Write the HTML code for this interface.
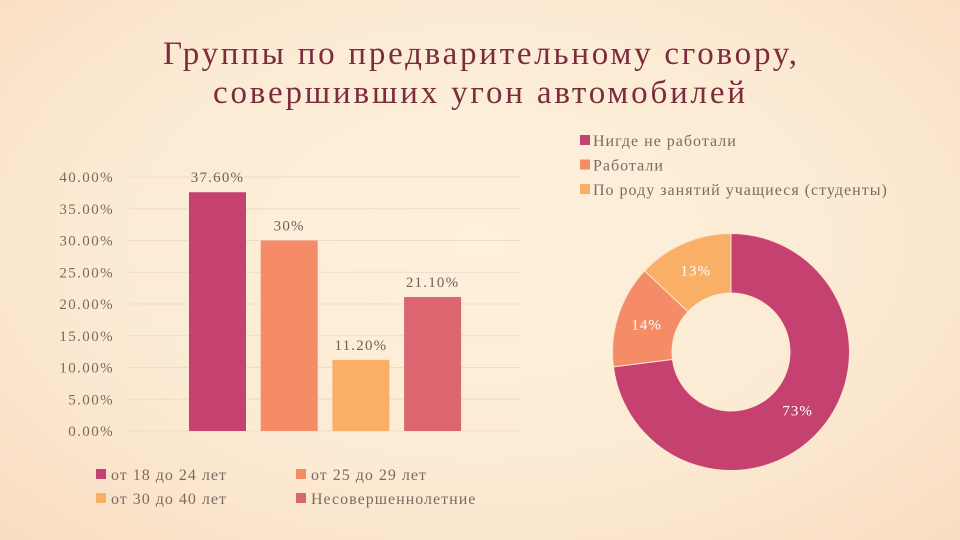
<!DOCTYPE html>
<html><head><meta charset="utf-8"><style>
html,body{margin:0;padding:0}
body{width:960px;height:540px;overflow:hidden;background:radial-gradient(ellipse at 50% 45%,#fdf1dc 0%,#fcebd4 55%,#f9dcc2 100%);font-family:"Liberation Serif",serif}
svg{position:absolute;left:0;top:0}
</style></head><body>
<svg width="960" height="540">
<text x="163" y="64" textLength="634" lengthAdjust="spacing" font-size="33" fill="#7b2d3e">Группы по предварительному сговору,</text>
<text x="213" y="103" textLength="532" lengthAdjust="spacing" font-size="33" fill="#7b2d3e">совершивших угон автомобилей</text>
<g id="bar"></g>
<g id="donut"></g>
</svg>
<script>
const barCats=["от 18 до 24 лет","от 25 до 29 лет","от 30 до 40 лет","Несовершеннолетние"];
const barVals=[37.6,30,11.2,21.1];
const barLabels=["37.60%","30%","11.20%","21.10%"];
const yTicks=[0,5,10,15,20,25,30,35,40];
const pieCats=["Нигде не работали","Работали","По роду занятий учащиеся (студенты)"];
const pieVals=[73,14,13];
const pieLabels=["73%","14%","13%"];
const NS="http://www.w3.org/2000/svg";
function mk(t,a,p){const e=document.createElementNS(NS,t);for(const k in a)e.setAttribute(k,a[k]);p.appendChild(e);return e;}
const barColors=["#c44170","#f58b67","#f9af66","#db6670"];
const pieColors=["#c44170","#f58b67","#f9af66"];
const bg=document.getElementById('bar');
const y0=431,pxPer=(431-177)/40;
const y=v=>y0-v*pxPer;
const x=i=>189+i*71.7;
yTicks.forEach(t=>{
 const l=mk('line',{x1:127,x2:520,y1:y(t),y2:y(t),stroke:'#efdcc4','stroke-width':1},bg);
 
 
 const tx=mk('text',{x:114,y:y(t)+5,'text-anchor':'end','font-size':15,'letter-spacing':1.4,fill:'#7a6a62'},bg);
 tx.textContent=t.toFixed(2)+'%';
 
 
});
barVals.forEach((v,i)=>{
 const r=mk('rect',{x:x(i),y:y(v),width:57,height:y0-y(v),fill:barColors[i]},bg);
 
 
 const t=mk('text',{x:x(i)+28.5,y:y(v)-10,'text-anchor':'middle','font-size':15,'letter-spacing':1.2,fill:'#6f5f58'},bg);
 t.textContent=barLabels[i];
 
 
});
barCats.forEach((c,i)=>{
 const lx=96+(i%2)*200, ly=478+Math.floor(i/2)*24;
 const s=mk('rect',{x:lx,y:ly-9,width:10,height:10,fill:barColors[i]},bg);
 
 
 const t=mk('text',{x:lx+15,y:ly+2,'font-size':16,'letter-spacing':1,fill:'#7a6a62'},bg);
 t.textContent=c;
 
 
});
const dg=document.getElementById('donut');
pieCats.forEach((c,i)=>{
 const ly=144+i*24.5;
 const s=mk('rect',{x:580,y:ly-9,width:10,height:10,fill:pieColors[i]},dg);
 
 
 const t=mk('text',{x:593,y:ly+2,'font-size':16,'letter-spacing':1,fill:'#7a6a62'},dg);
 t.textContent=c;
 
 
});
const cx=731,cy=352,R=118.5,r0=59;
const total=pieVals.reduce((a,b)=>a+b,0);
let a=0;
pieVals.forEach((v,i)=>{
 const a1=a+v/total*2*Math.PI;
 const p=(ang,rr)=>[cx+rr*Math.sin(ang),cy-rr*Math.cos(ang)];
 const large=(a1-a)>Math.PI?1:0;
 const [x1,y1]=p(a,R),[x2,y2]=p(a1,R),[x3,y3]=p(a1,r0),[x4,y4]=p(a,r0);
 const path=mk('path',{d:`M${x1},${y1}A${R},${R} 0 ${large} 1 ${x2},${y2}L${x3},${y3}A${r0},${r0} 0 ${large} 0 ${x4},${y4}Z`,fill:pieColors[i],stroke:'#fbe6cf','stroke-width':1},dg);
 
 
 const mid=(a+a1)/2;const [lx,ly]=p(mid,(R+r0)/2);
 const t=mk('text',{x:lx,y:ly+5,'text-anchor':'middle','font-size':15,'letter-spacing':1,fill:'#ffffff'},dg);
 t.textContent=pieLabels[i];
 
 
 a=a1;
});
</script>
</body></html>
